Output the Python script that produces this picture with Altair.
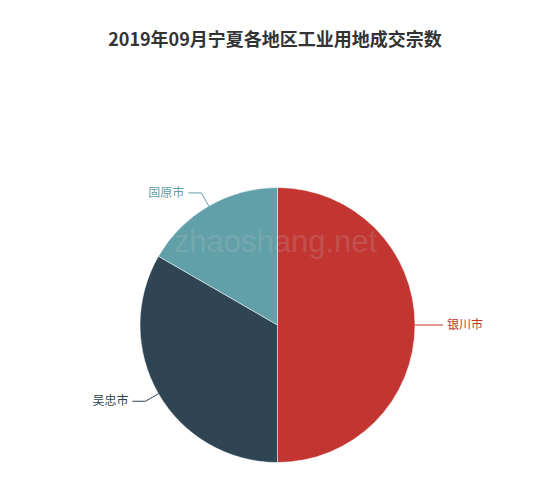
import math
import altair as alt
import pandas as pd

# ---- data ----
regions = ["银川市", "吴忠市", "固原市"]
counts = [3, 2, 1]
colors = ["#c23531", "#2f4554", "#61a0a8"]
title_text = "2019年09月宁夏各地区工业用地成交宗数"
watermark = "zhaoshang.net"

# ---- layout (pixels within plot area) ----
CX, CY, R = 269.5, 265, 137.5
LEN1, LEN2, GAP = 15, 13, 4

total = sum(counts)
rows, line_rows = [], []
cum = 0
for i, (name, v) in enumerate(zip(regions, counts)):
    mid = (cum + v / 2) / total * 2 * math.pi
    cum += v
    s, c = math.sin(mid), -math.cos(mid)
    p1 = (CX + R * s, CY + R * c)
    p2 = (CX + (R + LEN1) * s, CY + (R + LEN1) * c)
    side = 1 if s >= 0 else -1
    p3 = (p2[0] + side * LEN2, p2[1])
    for k, p in enumerate([p1, p2, p3]):
        line_rows.append({"region": name, "k": k, "x": p[0], "y": p[1]})
    rows.append({"region": name, "count": v, "order": i,
                 "tx": p3[0] + side * GAP, "ty": p3[1],
                 "align": "left" if side > 0 else "right"})

df = pd.DataFrame(rows)
lines = pd.DataFrame(line_rows)

color = alt.Color("region:N", scale=alt.Scale(domain=regions, range=colors), legend=None)

arc = alt.Chart(df).mark_arc(outerRadius=R, stroke="white", strokeWidth=0.5).encode(
    theta=alt.Theta("count:Q", stack=True),
    order=alt.Order("order:Q"),
    color=color,
    x=alt.value(CX),
    y=alt.value(CY),
)

leader = alt.Chart(lines).mark_line(strokeWidth=1).encode(
    x=alt.X("x:Q", scale=None),
    y=alt.Y("y:Q", scale=None),
    order="k:Q",
    detail="region:N",
    color=color,
)

right_lab = alt.Chart(df[df["align"] == "left"]).mark_text(
    align="left", baseline="middle", fontSize=12, font="Noto Sans CJK SC"
).encode(x=alt.X("tx:Q", scale=None), y=alt.Y("ty:Q", scale=None), text="region:N", color=color)

left_lab = alt.Chart(df[df["align"] == "right"]).mark_text(
    align="right", baseline="middle", fontSize=12, font="Noto Sans CJK SC"
).encode(x=alt.X("tx:Q", scale=None), y=alt.Y("ty:Q", scale=None), text="region:N", color=color)

wm = alt.Chart(pd.DataFrame({"t": [watermark]})).mark_text(
    align="center", baseline="middle", fontSize=31, font="Liberation Sans",
    color="#cccccc", opacity=0.18
).encode(x=alt.value(CX - 2), y=alt.value(CY - 82), text="t:N")

chart = alt.layer(arc, leader, right_lab, left_lab, wm).properties(
    width=534,
    height=405,
    padding={"left": 0, "right": 0, "top": 24, "bottom": 0},
    title=alt.TitleParams(
        title_text, fontSize=18, fontWeight="bold", color="#333333",
        font="Noto Sans CJK SC", anchor="middle", offset=10,
    ),
).configure_view(stroke=None)

chart.save("out.html", embed_options={"renderer": "svg", "actions": False})
